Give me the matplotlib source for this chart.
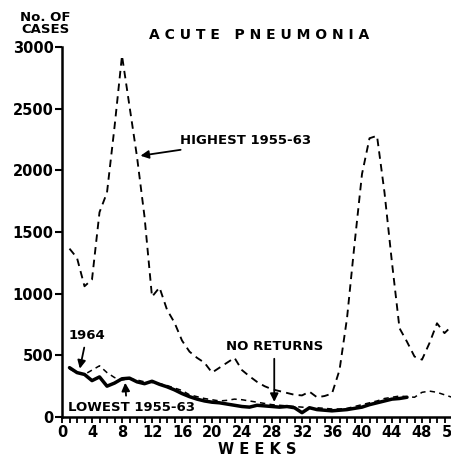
import numpy as np
import matplotlib
matplotlib.use('Agg')
import matplotlib.pyplot as plt
from matplotlib.ticker import MultipleLocator

# Недели и число случаев
weeks_high = list(range(1, 53))
highest = [1365, 1290, 1060, 1115, 1660, 1820, 2350, 2930, 2520, 2110,
           1625, 975, 1050, 870, 765, 620, 530, 480, 440, 360,
           400, 440, 480, 380, 330, 285, 250, 225, 210, 195,
           180, 175, 205, 160, 170, 190, 380, 800, 1400, 1970,
           2260, 2280, 1820, 1250, 720, 610, 490, 465, 600, 760,
           680, 740]

weeks_low = list(range(1, 53))
lowest = [390, 360, 345, 380, 415, 360, 320, 300, 310, 300,
          285, 280, 270, 255, 235, 215, 180, 165, 150, 140,
          130, 135, 145, 140, 130, 120, 110, 100, 95, 90,
          85, 80, 75, 75, 70, 65, 65, 70, 85, 100,
          115, 130, 150, 160, 170, 165, 160, 200, 210, 200,
          180, 160]

weeks_1964 = list(range(1, 47))
cases_1964 = [400, 360, 345, 295, 325, 250, 275, 310, 315, 285,
              270, 290, 265, 245, 220, 190, 165, 145, 130, 120,
              115, 105, 95, 85, 80, 95, 90, 85, 80, 85,
              75, 35, 75, 60, 55, 50, 55, 60, 70, 80,
              100, 115, 130, 145, 150, 160]

y_ticks = [0, 500, 1000, 1500, 2000, 2500, 3000]
x_ticks = list(range(0, 53, 4))

fig = plt.figure(figsize=(4.51, 4.61), dpi=100)
ax = fig.add_axes([62 / 451, 44 / 461, 390 / 451, 370 / 461])

ax.plot(weeks_high, highest, color='black', lw=1.35, dashes=(4, 2.8), clip_on=False)
ax.plot(weeks_low, lowest, color='black', lw=1.1, dashes=(3.5, 2.8))
ax.plot(weeks_1964, cases_1964, color='black', lw=2.5, solid_capstyle='round')

ax.set_xlim(0, 52)
ax.set_ylim(0, 3000)
ax.spines['top'].set_visible(False)
ax.spines['right'].set_visible(False)
ax.spines['left'].set_linewidth(1.8)
ax.spines['bottom'].set_linewidth(1.8)

ax.set_yticks(y_ticks)
ax.set_yticklabels([str(v) for v in y_ticks], fontsize=10.5, fontweight='bold')
ax.set_xticks(x_ticks)
ax.set_xticklabels([str(v) for v in x_ticks], fontsize=10.5, fontweight='bold')
ax.xaxis.set_minor_locator(MultipleLocator(1))
ax.tick_params(axis='y', direction='out', length=5, width=1.5, pad=1)
ax.tick_params(axis='x', which='both', direction='out', length=4, width=1.3, pad=2)

ax.set_xlabel('W E E K S', fontsize=10.5, fontweight='bold', labelpad=1)

# Подписи и стрелки
arrow = dict(arrowstyle='-|>', color='black', lw=1.3, mutation_scale=12)
ax.annotate('HIGHEST 1955-63', xy=(10.1, 2115), xytext=(15.8, 2245),
            fontsize=9.5, fontweight='bold', va='center', ha='left', arrowprops=arrow)
ax.annotate('NO RETURNS', xy=(28.3, 100), xytext=(28.3, 570),
            fontsize=9.5, fontweight='bold', va='center', ha='center', arrowprops=arrow)
ax.annotate('1964', xy=(2.3, 370), xytext=(3.3, 660),
            fontsize=9.5, fontweight='bold', va='center', ha='center', arrowprops=arrow)
ax.annotate('LOWEST 1955-63', xy=(8.4, 300), xytext=(0.8, 75),
            fontsize=9.5, fontweight='bold', va='center', ha='left',
            arrowprops=dict(arrowstyle='-|>', color='black', lw=1.3, mutation_scale=12,
                            relpos=(0.46, 1.0)))

fig.text(0.1, 0.948, 'No. OF\nCASES', fontsize=9.5, fontweight='bold',
         ha='center', va='center', linespacing=0.9)
fig.text(0.575, 0.925, 'A C U T E   P N E U M O N I A', fontsize=10,
         fontweight='bold', ha='center', va='center')

plt.savefig('out.png', dpi=100)
plt.close()
